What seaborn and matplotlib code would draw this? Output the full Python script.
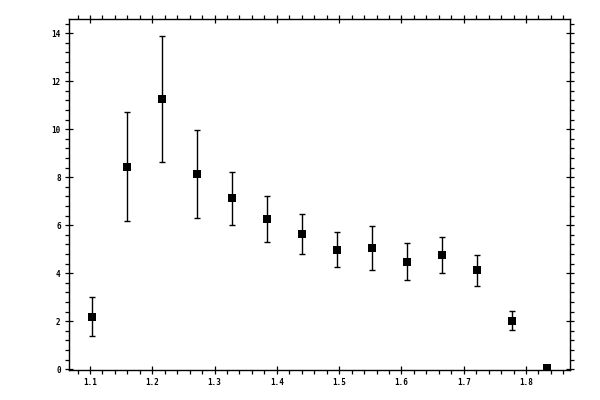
import pandas as pd
import matplotlib
matplotlib.use("Agg")
import matplotlib.pyplot as plt
import seaborn as sns
import numpy as np
from matplotlib.ticker import MultipleLocator

# valores
x_vals = [1.104, 1.160, 1.216, 1.272, 1.328, 1.384, 1.441, 1.497,
          1.553, 1.609, 1.665, 1.721, 1.777, 1.833]
y_vals = [2.17, 8.42, 11.25, 8.12, 7.12, 6.25, 5.62, 4.96,
          5.04, 4.46, 4.75, 4.13, 2.00, 0.07]
y_upper = [3.00, 10.71, 13.89, 9.96, 8.23, 7.21, 6.46, 5.71,
           5.96, 5.25, 5.50, 4.75, 2.42, 0.07]
y_lower = [1.38, 6.17, 8.63, 6.29, 6.00, 5.29, 4.79, 4.25,
           4.13, 3.71, 4.00, 3.46, 1.63, 0.07]
x_ticks = [1.1, 1.2, 1.3, 1.4, 1.5, 1.6, 1.7, 1.8]
y_ticks = [0, 2, 4, 6, 8, 10, 12, 14]

df = pd.DataFrame({"x": x_vals, "y": y_vals, "hi": y_upper, "lo": y_lower})
err = np.vstack([df["y"] - df["lo"], df["hi"] - df["y"]])

sns.set_style("ticks")
plt.rcParams["font.family"] = ["DejaVu Sans Mono", "DejaVu Sans"]

fig = plt.figure(figsize=(6, 4), dpi=100)
ax = fig.add_axes([0.115, 0.075, 0.8355, 0.877])

ax.errorbar(df["x"], df["y"], yerr=err, fmt="none", ecolor="black",
            elinewidth=1.0, capsize=2.5, capthick=1.0, zorder=2)
sns.scatterplot(data=df, x="x", y="y", marker="s", s=34, color="black",
                edgecolor="black", linewidth=0, ax=ax, zorder=3)

ax.set_xlim(1.0663, 1.8711)
ax.set_ylim(-0.03, 14.58)
ax.set_xticks(x_ticks)
ax.set_yticks(y_ticks)
ax.set_xticklabels([f"{v:.1f}" for v in x_ticks], fontweight="bold")
ax.set_yticklabels([str(v) for v in y_ticks], fontweight="bold")
ax.xaxis.set_minor_locator(MultipleLocator(0.02))
ax.yaxis.set_minor_locator(MultipleLocator(0.4))
ax.set_xlabel("")
ax.set_ylabel("")

for s in ax.spines.values():
    s.set_visible(True)
    s.set_linewidth(1.0)
    s.set_color("black")

ax.tick_params(which="both", top=True, right=True, direction="out",
               color="black", width=0.9, labelsize=5.5, labelcolor="black")
ax.tick_params(which="major", direction="inout", length=6, pad=3)
ax.tick_params(which="minor", length=3)

fig.savefig("out.png", dpi=100)
plt.close()
